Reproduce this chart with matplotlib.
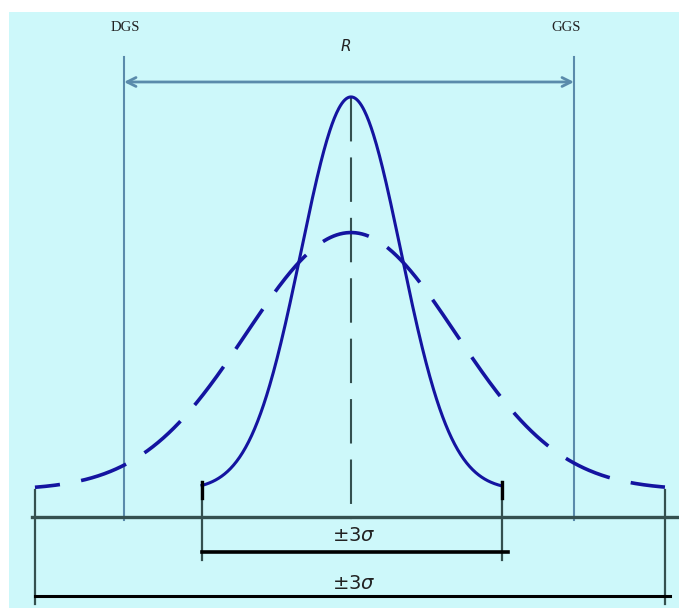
import numpy as np
import matplotlib
matplotlib.use("Agg")
from matplotlib import pyplot as plt

# two process distributions, x in units of the narrow sigma, y relative to narrow peak
mu = 0.0
sigmaNarrow = 1.0
sigmaWide = 2.1
peakNarrow = 1.0
peakWide = 0.655
limitLow = -4.54    # DGS
limitHigh = 4.46    # GGS
limitLabels = ["DGS", "GGS"]
rangeLabel = "R"
spreadLabel = r"$\pm3\sigma$"

plt.rcParams['lines.scale_dashes'] = False

fig = plt.figure(figsize=(6.79, 6.08), dpi=100, facecolor="white")
ax = fig.add_axes([9 / 679, 0, 1 - 9 / 679, 596 / 608])
ax.set_facecolor("#cdf8fa")
ax.set_xlim(-6.84, 6.56)
ax.set_ylim(-0.300, 1.216)
ax.axis("off")
ax.add_patch(plt.Rectangle((-6.84, -0.3), 13.4, 1.516, color="#cdf8fa", zorder=0))

blue = "#1414a0"
dark = "#34504f"
steel = "#5a8bab"

# curves
xn = np.linspace(mu - 2.98 * sigmaNarrow, mu + 3.02 * sigmaNarrow, 400)
yn = peakNarrow * np.exp(-0.5 * ((xn - mu) / sigmaNarrow) ** 2)
ax.plot(xn, yn, color=blue, lw=2.2, zorder=4)

xw = np.linspace(mu - 3.01 * sigmaWide, mu + 2.99 * sigmaWide, 600)
yw = peakWide * np.exp(-0.5 * ((xw - mu) / sigmaWide) ** 2)
ax.plot(xw, yw, color=blue, lw=2.6, linestyle=(16.5, (34.6, 15.5)), zorder=4)

# base axis
ax.plot([-6.38, 6.56], [-0.069, -0.069], color=dark, lw=2.4, zorder=3)

# centre line
ax.plot([mu, mu], [peakNarrow, -0.076], color=dark, lw=1.5,
        linestyle=(0, (32, 11.5)), zorder=3)

# tolerance limits and range arrow
for x in [limitLow, limitHigh]:
    ax.plot([x, x], [1.102, -0.076], color=steel, lw=1.5, zorder=2)
ax.text(limitLow + 0.02, 1.176, limitLabels[0], ha="center", va="center",
        fontsize=10.5, family="Liberation Serif", color="#222222")
ax.text(limitHigh - 0.16, 1.176, limitLabels[1], ha="center", va="center",
        fontsize=10.5, family="Liberation Serif", color="#222222")
ax.annotate("", xy=(limitHigh, 1.038), xytext=(limitLow, 1.038),
            arrowprops=dict(arrowstyle="<->", color=steel, lw=2.0,
                            shrinkA=0, shrinkB=0, mutation_scale=16))
ax.text(mu - 0.1, 1.127, rangeLabel, ha="center", va="center", fontsize=11,
        style="italic", color="#222222")

# spread brackets
for x in [mu - 2.98 * sigmaNarrow, mu + 3.02 * sigmaNarrow]:
    ax.plot([x, x], [0.02, -0.178], color=dark, lw=1.6, zorder=3)
    ax.plot([x, x], [0.02, -0.02], color="black", lw=2.4, zorder=5)
ax.plot([mu - 2.98 * sigmaNarrow, mu + 3.14 * sigmaNarrow], [-0.158, -0.158],
        color="black", lw=2.6, zorder=3)
ax.text(mu + 0.06, -0.115, spreadLabel, ha="center", va="center",
        fontsize=14, color="#222222")

for x in [mu - 3.01 * sigmaWide, mu + 2.99 * sigmaWide]:
    ax.plot([x, x], [0.0, -0.29], color=dark, lw=1.6, zorder=3)
ax.plot([mu - 3.01 * sigmaWide, mu + 3.04 * sigmaWide], [-0.270, -0.270],
        color="black", lw=2.2, zorder=3)
ax.text(mu + 0.06, -0.237, spreadLabel, ha="center", va="center",
        fontsize=14, color="#222222")

fig.savefig("out.png", dpi=100, facecolor="white")
